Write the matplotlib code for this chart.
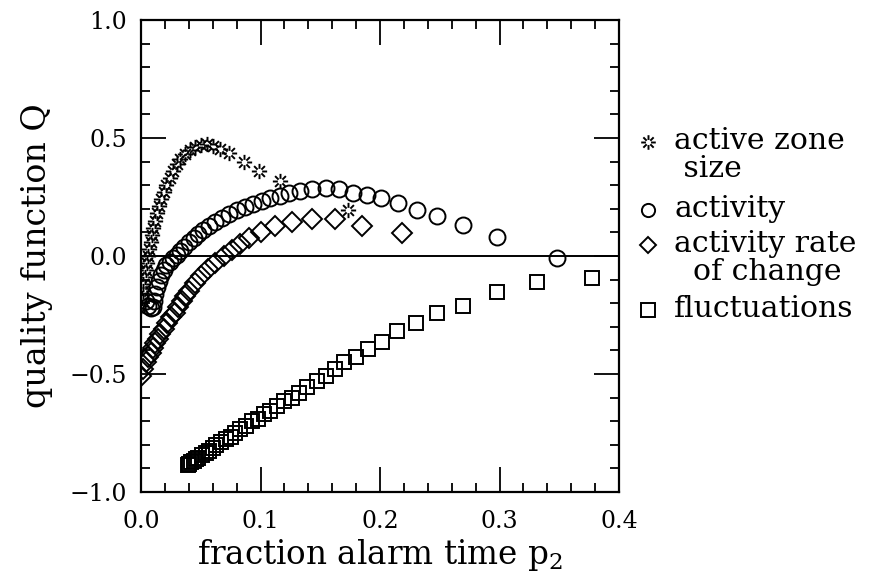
import matplotlib
matplotlib.use('Agg')
import matplotlib.pyplot as plt
import numpy as np
from matplotlib.path import Path
from matplotlib.lines import Line2D

# values
zone_x = [0.000, 0.001, 0.002, 0.002, 0.003, 0.004, 0.005, 0.006, 0.007, 0.008,
          0.009, 0.010, 0.012, 0.013, 0.015, 0.017, 0.019, 0.021, 0.024, 0.027,
          0.030, 0.033, 0.037, 0.041, 0.045, 0.050, 0.055, 0.060, 0.066, 0.074,
          0.086, 0.099, 0.116, 0.173]
zone_y = [-0.21, -0.18, -0.15, -0.12, -0.09, -0.06, -0.03, 0.00, 0.03, 0.06,
          0.09, 0.12, 0.15, 0.18, 0.21, 0.24, 0.27, 0.30, 0.33, 0.36,
          0.39, 0.41, 0.43, 0.45, 0.46, 0.47, 0.475, 0.468, 0.455, 0.437,
          0.40, 0.36, 0.318, 0.195]

act_x = [0.004, 0.006, 0.008, 0.010, 0.011, 0.012, 0.013, 0.015, 0.017, 0.019,
         0.021, 0.024, 0.027, 0.030, 0.033, 0.036, 0.040, 0.044, 0.048, 0.052,
         0.057, 0.062, 0.068, 0.074, 0.080, 0.087, 0.094, 0.101, 0.108, 0.116,
         0.124, 0.133, 0.143, 0.155, 0.166, 0.177, 0.189, 0.201, 0.215, 0.231,
         0.248, 0.269, 0.298, 0.348]
act_y = [-0.19, -0.21, -0.22, -0.215, -0.19, -0.16, -0.13, -0.105, -0.08, -0.06,
         -0.04, -0.025, -0.01, 0.005, 0.02, 0.04, 0.06, 0.075, 0.095, 0.11,
         0.128, 0.145, 0.162, 0.178, 0.193, 0.208, 0.222, 0.235, 0.246, 0.256,
         0.266, 0.275, 0.284, 0.29, 0.284, 0.267, 0.258, 0.246, 0.225, 0.195,
         0.17, 0.131, 0.08, -0.008]

rate_x = [0.000, 0.002, 0.004, 0.006, 0.008, 0.010, 0.012, 0.014, 0.016, 0.019,
          0.022, 0.025, 0.028, 0.031, 0.034, 0.037, 0.040, 0.045, 0.050, 0.056,
          0.062, 0.069, 0.076, 0.083, 0.090, 0.100, 0.112, 0.126, 0.143, 0.162,
          0.185, 0.218]
rate_y = [-0.51, -0.48, -0.45, -0.43, -0.41, -0.39, -0.37, -0.35, -0.33, -0.31,
          -0.285, -0.26, -0.24, -0.215, -0.19, -0.17, -0.15, -0.115, -0.085, -0.055,
          -0.03, 0.0, 0.025, 0.05, 0.075, 0.10, 0.125, 0.143, 0.157, 0.155,
          0.127, 0.097]

fluct_x = [0.039, 0.040, 0.042, 0.044, 0.046, 0.048, 0.051, 0.054, 0.057, 0.060,
           0.063, 0.067, 0.071, 0.075, 0.079, 0.083, 0.088, 0.093, 0.098, 0.103,
           0.108, 0.114, 0.120, 0.126, 0.132, 0.139, 0.147, 0.155, 0.162, 0.170,
           0.180, 0.190, 0.202, 0.214, 0.230, 0.248, 0.269, 0.298, 0.331, 0.377]
fluct_y = [-0.885, -0.88, -0.875, -0.87, -0.86, -0.855, -0.845, -0.835, -0.825, -0.815,
           -0.80, -0.79, -0.775, -0.765, -0.75, -0.735, -0.72, -0.70, -0.69, -0.67,
           -0.655, -0.635, -0.615, -0.60, -0.58, -0.555, -0.53, -0.51, -0.48, -0.45,
           -0.43, -0.395, -0.364, -0.32, -0.285, -0.243, -0.21, -0.153, -0.11, -0.094]

# legend labels, each a list of lines
labels = [['active zone', ' size'], ['activity'], ['activity rate', '  of change'], ['fluctuations']]

# asterisk with an open centre, like the plotter symbol
verts = []
codes = []
for k in range(8):
    a = k*np.pi/4
    verts += [(0.35*np.cos(a), 0.35*np.sin(a)), (np.cos(a), np.sin(a))]
    codes += [Path.MOVETO, Path.LINETO]
star = Path(verts, codes)

plt.rcParams['font.family'] = 'DejaVu Serif'
plt.rcParams['mathtext.fontset'] = 'dejavuserif'

W, H = 869, 579
fig = plt.figure(figsize=(W/100, H/100), dpi=100)
ax = fig.add_axes([0.1623, 0.1503, 0.5501, 0.8152])

kw = dict(linestyle='none', markerfacecolor='none', markeredgecolor='black', markeredgewidth=1.4)
markers = [(star, 11), ('o', 11.5), ('D', 10), ('s', 10.5)]
series = [(zone_x, zone_y), (act_x, act_y), (rate_x, rate_y), (fluct_x, fluct_y)]
for (xs, ys), (m, ms) in zip(series, markers):
    ax.plot(xs, ys, marker=m, markersize=ms, **kw)

ax.axhline(0, color='black', linewidth=1.4)

fmt = matplotlib.ticker.FuncFormatter(lambda v, p: ('%.1f' % v).replace('-', '\u2212'))
ax.set_xlim(0, 0.4)
ax.set_ylim(-1, 1)
ax.set_xticks([0.0, 0.1, 0.2, 0.3, 0.4])
ax.set_yticks([-1.0, -0.5, 0.0, 0.5, 1.0])
ax.set_xticks(np.arange(0, 0.401, 0.02), minor=True)
ax.set_yticks(np.arange(-1, 1.001, 0.1), minor=True)
ax.xaxis.set_major_formatter(fmt)
ax.yaxis.set_major_formatter(fmt)
ax.tick_params(which='both', direction='in', top=True, right=True, width=1.3)
ax.tick_params(which='major', length=18, labelsize=17)
ax.tick_params(axis='x', which='major', pad=13)
ax.tick_params(axis='y', which='major', pad=10)
ax.tick_params(which='minor', length=6.5)
for s in ax.spines.values():
    s.set_linewidth(1.6)

ax.set_xlabel(r'fraction alarm time $\mathrm{p}_2$', fontsize=23.5, labelpad=3)
ax.set_ylabel('quality function Q', fontsize=24, labelpad=12)

# legend drawn by hand so the symbol sits on the first line of each label
leg_marker_size = [10.5, 9.5, 8.5, 9.5]
first_base = [149, 217, 252, 317]
for (m, _), lines, ms, yb in zip(markers, labels, leg_marker_size, first_base):
    fig.add_artist(Line2D([648/W], [1 - (yb - 7)/H], marker=m, markersize=ms,
                          transform=fig.transFigure, **kw))
    for i, line in enumerate(lines):
        fig.text(674/W, 1 - (yb + 28*i)/H, line, fontsize=21.5, va='baseline', ha='left')

plt.savefig('out.png', dpi=100)
